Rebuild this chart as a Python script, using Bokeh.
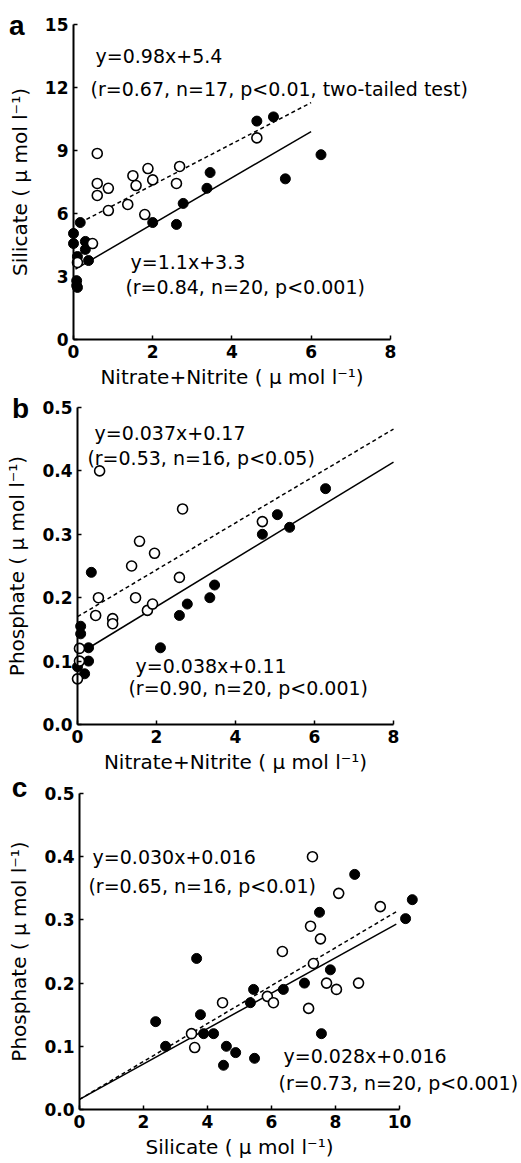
from bokeh.plotting import figure
from bokeh.models import Range1d, Label, FixedTicker, PrintfTickFormatter, LinearAxis, BasicTickFormatter
from bokeh.embed import file_html
from bokeh.resources import INLINE

# ---------------- data ----------------
# Panel a: Silicate vs Nitrate+Nitrite
a_open_x = [0.6, 0.6, 0.6, 0.88, 1.5, 1.58, 1.88, 2.0, 2.6, 2.68, 4.63, 0.88, 1.37, 1.8, 0.48, 0.1]
a_open_y = [8.86, 7.43, 6.86, 7.2, 7.8, 7.33, 8.14, 7.6, 7.43, 8.24, 9.6, 6.14, 6.43, 5.95, 4.57, 3.67]
a_fill_x = [0.17, 0.0, 0.0, 0.3, 0.3, 0.1, 0.38, 0.08, 0.08, 0.1, 2.0, 2.6, 2.77, 3.37, 3.45, 4.63, 5.05, 5.35, 6.25]
a_fill_y = [5.57, 5.05, 4.57, 4.67, 4.29, 3.95, 3.76, 2.8, 2.57, 2.48, 5.57, 5.48, 6.48, 7.2, 7.95, 10.4, 10.6, 7.65, 8.8]
a_dash_fit = (0.98, 5.4)
a_solid_fit = (1.1, 3.3)
a_dash_x = [0.17, 6.0]
a_solid_x = [0.05, 6.0]

# Panel b: Phosphate vs Nitrate+Nitrite
b_open_x = [0.56, 2.66, 4.68, 1.57, 1.95, 1.37, 2.58, 0.53, 1.47, 0.46, 0.89, 0.89, 1.77, 1.9, 0.05, 0.05, 0.0]
b_open_y = [0.40, 0.34, 0.32, 0.289, 0.27, 0.25, 0.232, 0.20, 0.20, 0.172, 0.167, 0.159, 0.18, 0.19, 0.12, 0.10, 0.072]
b_fill_x = [0.35, 0.08, 0.08, 0.28, 0.28, 0.0, 0.18, 2.1, 2.58, 2.78, 3.35, 3.47, 6.28, 5.06, 5.37, 4.68]
b_fill_y = [0.24, 0.155, 0.143, 0.121, 0.10, 0.091, 0.08, 0.121, 0.172, 0.19, 0.20, 0.22, 0.372, 0.331, 0.311, 0.30]
b_dash_fit = (0.037, 0.17)
b_solid_fit = (0.038, 0.11)
b_dash_x = [0.0, 8.0]
b_solid_x = [0.28, 8.0]

# Panel c: Phosphate vs Silicate
c_open_x = [7.28, 8.1, 9.4, 7.22, 7.53, 6.34, 7.31, 4.47, 3.5, 3.6, 5.87, 6.06, 7.16, 7.72, 8.03, 8.72]
c_open_y = [0.40, 0.342, 0.321, 0.29, 0.27, 0.25, 0.231, 0.169, 0.12, 0.098, 0.179, 0.169, 0.16, 0.20, 0.19, 0.20]
c_fill_x = [8.6, 7.5, 10.4, 10.19, 3.66, 7.84, 7.03, 6.37, 5.44, 5.34, 2.38, 3.78, 2.69, 3.88, 4.19, 4.59, 4.88, 4.5, 5.47, 7.56]
c_fill_y = [0.372, 0.312, 0.332, 0.302, 0.239, 0.221, 0.20, 0.19, 0.19, 0.169, 0.139, 0.15, 0.10, 0.12, 0.12, 0.10, 0.09, 0.07, 0.081, 0.12]
c_dash_fit = (0.030, 0.016)
c_solid_fit = (0.028, 0.016)
c_dash_x = [0.0, 9.9]
c_solid_x = [0.0, 9.9]

xticks_ab = [0, 2, 4, 6, 8]
xticks_c = [0, 2, 4, 6, 8, 10]
yticks_a = [0, 3, 6, 9, 12, 15]
yticks_bc = [0.0, 0.1, 0.2, 0.3, 0.4, 0.5]

xlabel_n = "Nitrate+Nitrite ( \u03bc mol l\u207b\u00b9)"
xlabel_si = "Silicate ( \u03bc mol l\u207b\u00b9)"
ylabel_si = "Silicate ( \u03bc mol l\u207b\u00b9)"
ylabel_p = "Phosphate ( \u03bc mol l\u207b\u00b9)"

EQ_FONT = "DejaVu Sans"
EQ_SIZE = "19px"
TICK_FONT = "DejaVu Sans"

W, H = 521, 1163

# One figure whose frame fills the whole page; every panel has its own
# pair of ranges, and its axes are pinned at x=0 / y=0 of those ranges.
p = figure(width=W, height=H, output_backend="svg", toolbar_location=None,
           x_range=Range1d(0, W), y_range=Range1d(0, H), min_border=0,
           x_axis_location=None, y_axis_location=None)
p.outline_line_color = None
p.grid.visible = False
p.background_fill_color = "white"
p.border_fill_color = "white"

# panel geometry: (origin px x, px per x unit, origin px y from top, px per y unit)
geom = {
    "a": (73, 39.6, 339, 21.0),
    "b": (77, 39.5, 724, 634.0),
    "c": (79, 32.0, 1109, 632.0),
}
for k, (x0, sx, y0, sy) in geom.items():
    p.extra_x_ranges["x" + k] = Range1d(-x0 / sx, (W - x0) / sx)
    p.extra_y_ranges["y" + k] = Range1d((y0 - H) / sy, y0 / sy)


def style_axis(ax):
    ax.fixed_location = 0
    ax.axis_line_width = 2
    ax.axis_line_color = "black"
    ax.major_tick_in = 4
    ax.major_tick_out = 0
    ax.major_tick_line_width = 1.5
    ax.major_tick_line_color = "black"
    ax.minor_tick_line_color = None
    ax.major_label_text_font = TICK_FONT
    ax.major_label_text_font_style = "bold"
    ax.major_label_text_font_size = "17px"
    ax.major_label_text_color = "black"
    ax.major_label_standoff = 5
    ax.axis_label_text_font = "DejaVu Sans"
    ax.axis_label_text_font_style = "normal"
    ax.axis_label_text_font_size = "20px"
    ax.axis_label_text_color = "black"


def add_axes(k, xticks, yticks, yfmt, xbounds, ybounds, xlabel, ylabel):
    xr, yr = "x" + k, "y" + k
    xa = LinearAxis(x_range_name=xr, y_range_name=yr, ticker=FixedTicker(ticks=xticks),
                    formatter=BasicTickFormatter(), bounds=xbounds, axis_label=xlabel)
    style_axis(xa)
    xa.axis_label_standoff = 4
    ya = LinearAxis(x_range_name=xr, y_range_name=yr, ticker=FixedTicker(ticks=yticks),
                    formatter=PrintfTickFormatter(format=yfmt) if yfmt else BasicTickFormatter(),
                    bounds=ybounds, axis_label=ylabel)
    style_axis(ya)
    ya.axis_label_standoff = 10
    p.add_layout(xa, "below")
    p.add_layout(ya, "left")


def draw(k, ox, oy, fx, fy, dfit, dx, sfit, sx):
    kw = dict(x_range_name="x" + k, y_range_name="y" + k)
    p.line(dx, [dfit[0] * v + dfit[1] for v in dx], line_color="black", line_width=1.5,
           line_dash="4 3", **kw)
    p.line(sx, [sfit[0] * v + sfit[1] for v in sx], line_color="black", line_width=1.5, **kw)
    p.scatter(fx, fy, size=10, marker="circle", fill_color="black", line_color="black",
              line_width=1, **kw)
    p.scatter(ox, oy, size=10, marker="circle", fill_color="white", line_color="black",
              line_width=1.6, **kw)


def label(k, x, y, text, size=EQ_SIZE, font=EQ_FONT, style="normal", baseline="middle", align="left"):
    p.add_layout(Label(x=x, y=y, text=text, text_font=font, text_font_size=size,
                       text_font_style=style, text_baseline=baseline, text_align=align,
                       text_color="black", x_range_name="x" + k, y_range_name="y" + k))


# ---------------- panel a ----------------
add_axes("a", xticks_ab, yticks_a, None, (0, 8), (0, 15), xlabel_n, ylabel_si)
draw("a", a_open_x, a_open_y, a_fill_x, a_fill_y, a_dash_fit, a_dash_x, a_solid_fit, a_solid_x)
label("a", 0.556, 13.48, "y=0.98x+5.4")
label("a", 0.43, 11.95, "(r=0.67, n=17, p<0.01, two-tailed test)")
label("a", 1.44, 3.67, "y=1.1x+3.3")
label("a", 1.31, 2.48, "(r=0.84, n=20, p<0.001)")
label("a", -1.43, 14.95, "a", size="28px", font="Liberation Sans", style="bold",
      baseline="alphabetic", align="center")

# ---------------- panel b ----------------
add_axes("b", xticks_ab, yticks_bc, "%.1f", (0, 8), (0, 0.5), xlabel_n, ylabel_p)
draw("b", b_open_x, b_open_y, b_fill_x, b_fill_y, b_dash_fit, b_dash_x, b_solid_fit, b_solid_x)
label("b", 0.43, 0.459, "y=0.037x+0.17")
label("b", 0.25, 0.421, "(r=0.53, n=16, p<0.05)")
label("b", 1.47, 0.093, "y=0.038x+0.11")
label("b", 1.29, 0.057, "(r=0.90, n=20, p<0.001)")
label("b", -1.44, 0.498, "b", size="28px", font="Liberation Sans", style="bold",
      baseline="alphabetic", align="center")

# ---------------- panel c ----------------
add_axes("c", xticks_c, yticks_bc, "%.1f", (0, 10), (0, 0.5), xlabel_si, ylabel_p)
draw("c", c_open_x, c_open_y, c_fill_x, c_fill_y, c_dash_fit, c_dash_x, c_solid_fit, c_solid_x)
label("c", 0.41, 0.399, "y=0.030x+0.016")
label("c", 0.28, 0.354, "(r=0.65, n=16, p<0.01)")
label("c", 6.375, 0.0854, "y=0.028x+0.016")
label("c", 6.22, 0.0427, "(r=0.73, n=20, p<0.001)")
label("c", -1.875, 0.509, "c", size="28px", font="Liberation Sans", style="bold",
      baseline="alphabetic", align="center")

open("out.html", "w").write(file_html(p, INLINE))
